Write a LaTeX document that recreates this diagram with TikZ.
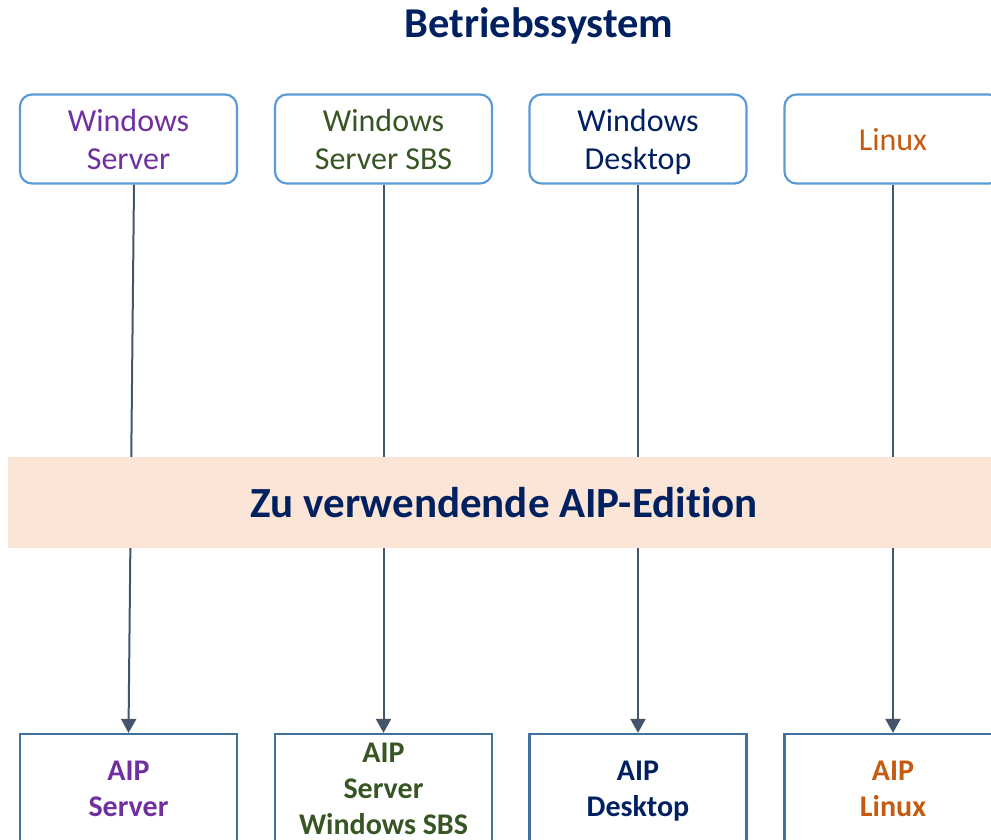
\documentclass[tikz,border=0pt]{standalone}
\usepackage{fontspec}
\setmainfont[Ligatures=NoCommon]{Carlito}
\usetikzlibrary{arrows.meta}
\definecolor{navy}{HTML}{002060}
\definecolor{osPurple}{HTML}{7030A0}
\definecolor{osGreen}{HTML}{375623}
\definecolor{osOrange}{HTML}{C55A11}
\definecolor{bandFill}{HTML}{FBE5D6}
\definecolor{topBlue}{HTML}{5B9BD5}
\definecolor{botBlue}{HTML}{41719C}
\definecolor{arrowGray}{HTML}{44546A}
\newcommand\tstrut{\rule[-7.4pt]{0pt}{38pt}}
\newcommand\bstrut{\rule[-8.8pt]{0pt}{36pt}}
\tikzset{
  topbox/.style={draw=topBlue, line width=2.2pt, rounded corners=12pt, minimum width=217pt, minimum height=89pt, inner sep=0pt, align=center, font=\fontsize{32}{38}\selectfont},
  botbox/.style={draw=botBlue, line width=2.2pt, minimum width=217pt, minimum height=110pt, inner sep=0pt, align=center, font=\bfseries\fontsize{30}{36}\selectfont},
  bandbox/.style={fill=bandFill, minimum width=992pt, minimum height=91pt, inner sep=0pt, text=navy, font=\bfseries\fontsize{43}{50}\selectfont},
  titletext/.style={text=navy, inner sep=0pt, font=\bfseries\fontsize{42.5}{50}\selectfont},
  conn/.style={draw=arrowGray, line width=2pt, -{Triangle[width=15pt,length=14pt]}}
}
\begin{document}
\begin{tikzpicture}[x=1pt,y=-1pt]
\useasboundingbox (0,0) rectangle (991,839);
\clip (0,0) rectangle (991,839);
\node[titletext] (title) at (539,26) {Betriebssystem};
% top boxes
\node[topbox, text=osPurple] (t1) at (128.5,139) {Windows\tstrut\\Server\tstrut};
\node[topbox, text=osGreen]  (t2) at (383.5,139) {Windows\tstrut\\Server SBS\tstrut};
\node[topbox, text=navy]     (t3) at (638,139)   {Windows\tstrut\\Desktop\tstrut};
\node[topbox, text=osOrange] (t4) at (893,139)   {Linux\tstrut};
% bottom boxes
\node[botbox, text=osPurple] (b1) at (128.5,789) {AIP\bstrut\\Server\bstrut};
\node[botbox, text=osGreen]  (b2) at (383.5,789) {AIP\bstrut\\Server\bstrut\\Windows SBS\bstrut};
\node[botbox, text=navy]     (b3) at (638,789)   {AIP\bstrut\\Desktop\bstrut};
\node[botbox, text=osOrange] (b4) at (893,789)   {AIP\bstrut\\Linux\bstrut};
% connectors
\draw[conn] ([xshift=5.5pt]t1.south) -- (b1.north);
\draw[conn] (t2.south) -- (b2.north);
\draw[conn] (t3.south) -- (b3.north);
\draw[conn] (t4.south) -- (b4.north);
% band over the connectors
\node[bandbox] (band) at (504,502.5) {Zu verwendende AIP-Edition};
\end{tikzpicture}
\end{document}
